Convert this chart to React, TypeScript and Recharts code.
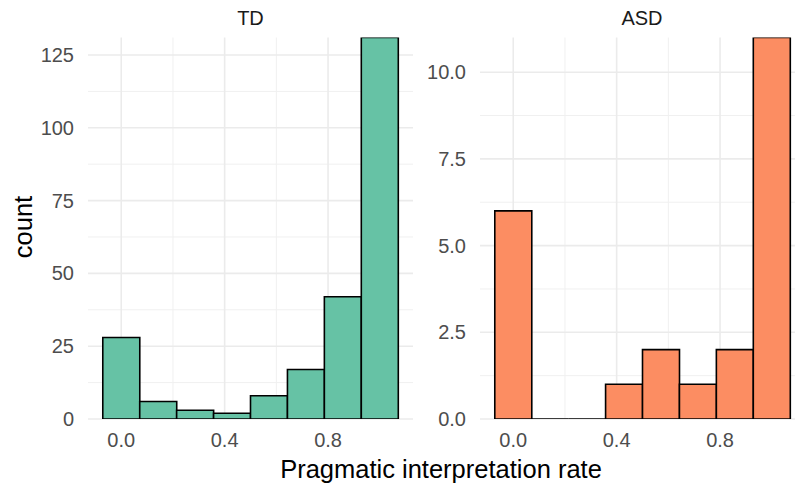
import { BarChart, Bar, XAxis, YAxis, CartesianGrid } from 'recharts';

// histogram bins (centres of 8 bins over 0..1)
const binCenters = [0, 0.1429, 0.2857, 0.4286, 0.5714, 0.7143, 0.8571, 1];
const tdCounts = [28, 6, 3, 2, 8, 17, 42, 131];
const asdCounts = [6, 0, 0, 1, 2, 1, 2, 11];

const xTicks = [0, 0.4, 0.8];
const xMinor = [0.2, 0.6, 1.0];
const tdTicks = [0, 25, 50, 75, 100, 125];
const tdMinor = [12.5, 37.5, 62.5, 87.5, 112.5];
const asdTicks = [0, 2.5, 5, 7.5, 10];
const asdMinor = [1.25, 3.75, 6.25, 8.75];

const FONT = '"Liberation Sans", Arial, Helvetica, sans-serif';
const X_DOMAIN: [number, number] = [-0.1286, 1.1286];

const HistBar = (props: any) => {
  const { x, y, width, height, fill } = props;
  if (x == null || width == null) return null;
  const h = height || 0;
  const d = `M${x},${y}h${width}v${h}h${-width}Z`;
  return <path d={d} fill={fill} stroke="#000" strokeWidth={1.6} />;
};

type PanelProps = {
  counts: number[];
  fill: string;
  yMax: number;
  yTicks: number[];
  yMinor: number[];
  yFmt: (v: number) => string;
  left: number;
  width: number;
  yAxisWidth: number;
  right: number;
};

function Panel({ counts, fill, yMax, yTicks, yMinor, yFmt, left, width, yAxisWidth, right }: PanelProps) {
  const data = binCenters.map((x, i) => ({ x, count: counts[i] }));
  return (
    <div style={{ position: 'absolute', left, top: 0 }}>
      <BarChart
        width={width}
        height={488}
        data={data}
        margin={{ top: 37.5, right, bottom: 39, left: 0 }}
        barCategoryGap={0}
        barGap={0}
      >
        <CartesianGrid
          stroke="#f0f0f0"
          strokeWidth={1}
          horizontalValues={yMinor}
          verticalValues={xMinor}
        />
        <CartesianGrid
          stroke="#ebebeb"
          strokeWidth={1.6}
          horizontalValues={yTicks}
          verticalValues={xTicks}
        />
        <XAxis
          dataKey="x"
          type="number"
          domain={X_DOMAIN}
          allowDataOverflow
          ticks={xTicks}
          interval={0}
          tickFormatter={(v: number) => v.toFixed(1)}
          axisLine={false}
          tickLine={false}
          tickSize={0}
          tickMargin={14}
          height={30}
          tick={{ fill: '#4d4d4d', fontSize: 20, fontFamily: FONT }}
        />
        <YAxis
          type="number"
          domain={[0, yMax]}
          allowDataOverflow
          ticks={yTicks}
          interval={0}
          tickFormatter={yFmt}
          axisLine={false}
          tickLine={false}
          tickSize={0}
          tickMargin={14}
          width={yAxisWidth}
          tick={{ fill: '#4d4d4d', fontSize: 20, fontFamily: FONT }}
        />
        <Bar dataKey="count" fill={fill} isAnimationActive={false} shape={HistBar} />
      </BarChart>
    </div>
  );
}

export default function App() {
  return (
    <div
      style={{
        position: 'fixed',
        left: 0,
        top: 0,
        width: 795,
        height: 488,
        overflow: 'hidden',
        background: '#fff',
        fontFamily: FONT,
      }}
    >
      <Panel
        counts={tdCounts}
        fill="#66c2a5"
        yMax={131}
        yTicks={tdTicks}
        yMinor={tdMinor}
        yFmt={(v) => String(v)}
        left={0}
        width={420}
        yAxisWidth={88}
        right={7}
      />
      <Panel
        counts={asdCounts}
        fill="#fc8d62"
        yMax={11}
        yTicks={asdTicks}
        yMinor={asdMinor}
        yFmt={(v) => v.toFixed(1)}
        left={400}
        width={405}
        yAxisWidth={80}
        right={0}
      />
      <svg
        width={795}
        height={488}
        style={{ position: 'absolute', left: 0, top: 0, pointerEvents: 'none' }}
      >
        <text x={250.5} y={25} textAnchor="middle" fontSize={20} fill="#1a1a1a" fontFamily={FONT}>
          TD
        </text>
        <text x={642} y={25} textAnchor="middle" fontSize={20} fill="#1a1a1a" fontFamily={FONT}>
          ASD
        </text>
        <text x={441} y={478} textAnchor="middle" fontSize={25.5} fill="#000" fontFamily={FONT}>
          Pragmatic interpretation rate
        </text>
        <text
          x={31.5}
          y={227}
          textAnchor="middle"
          fontSize={25.5}
          fill="#000"
          fontFamily={FONT}
          transform="rotate(-90, 31.5, 227)"
        >
          count
        </text>
      </svg>
    </div>
  );
}
